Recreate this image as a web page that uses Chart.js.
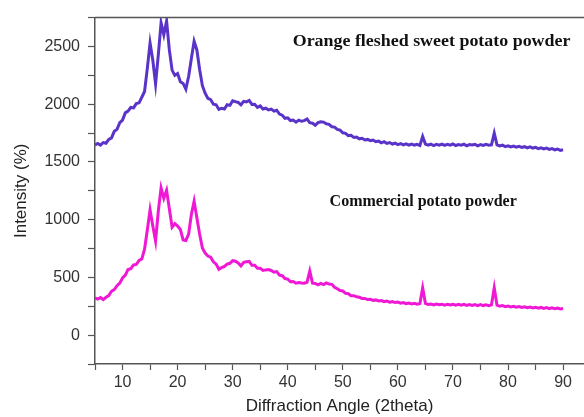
<!DOCTYPE html>
<html>
<head>
<meta charset="utf-8">
<script src="https://cdn.jsdelivr.net/npm/chart.js@4.4.1/dist/chart.umd.min.js"></script>
<style>
  html, body { margin: 0; padding: 0; background: #fff; }
  #wrap { width: 584px; height: 417px; position: relative; }
</style>
</head>
<body>
<div id="wrap"><canvas id="xrd"></canvas></div>
<script>
// 2theta scan positions
const angles = [
  5, 5.5, 6, 6.5, 7, 7.5, 8, 8.5, 9, 9.5,
  10, 10.5, 11, 11.5, 12, 12.5, 13, 13.5, 14, 14.5,
  15, 15.5, 16, 16.5, 17, 17.5, 18, 18.5, 19, 19.5,
  20, 20.5, 21, 21.5, 22, 22.5, 23, 23.5, 24, 24.5,
  25, 25.5, 26, 26.5, 27, 27.5, 28, 28.5, 29, 29.5,
  30, 30.5, 31, 31.5, 32, 32.5, 33, 33.5, 34, 34.5,
  35, 35.5, 36, 36.5, 37, 37.5, 38, 38.5, 39, 39.5,
  40, 40.5, 41, 41.5, 42, 42.5, 43, 43.5, 44, 44.5,
  45, 45.5, 46, 46.5, 47, 47.5, 48, 48.5, 49, 49.5,
  50, 50.5, 51, 51.5, 52, 52.5, 53, 53.5, 54, 54.5,
  55, 55.5, 56, 56.5, 57, 57.5, 58, 58.5, 59, 59.5,
  60, 60.5, 61, 61.5, 62, 62.5, 63, 63.5, 64, 64.5,
  65, 65.5, 66, 66.5, 67, 67.5, 68, 68.5, 69, 69.5,
  70, 70.5, 71, 71.5, 72, 72.5, 73, 73.5, 74, 74.5,
  75, 75.5, 76, 76.5, 77, 77.5, 78, 78.5, 79, 79.5,
  80, 80.5, 81, 81.5, 82, 82.5, 83, 83.5, 84, 84.5,
  85, 85.5, 86, 86.5, 87, 87.5, 88, 88.5, 89, 89.5,
  90
];

// orange fleshed sweet potato powder
const orangeFleshed = [
  1648, 1660, 1645, 1668, 1662, 1695, 1708, 1765, 1782, 1840,
  1862, 1925, 1940, 1972, 1968, 2005, 2012, 2060, 2110, 2310,
  2530, 2380, 2175, 2430, 2705, 2600, 2720, 2470, 2295, 2250,
  2265, 2195, 2180, 2130, 2240, 2395, 2545, 2470, 2300, 2160,
  2095, 2050, 2040, 2000, 1995, 1955, 1965, 1958, 1995, 1990,
  2030, 2022, 2015, 1995, 2025, 2020, 2032, 1998, 2000, 1972,
  1985, 1958, 1965, 1950, 1958, 1940, 1948, 1915, 1905, 1878,
  1882, 1858, 1862, 1845, 1862, 1852, 1858, 1872, 1840, 1835,
  1818, 1840, 1848, 1845, 1830, 1825, 1805, 1802, 1782, 1775,
  1752, 1748, 1728, 1730, 1712, 1715, 1700, 1705, 1690, 1695,
  1684, 1690, 1675, 1680, 1665, 1675, 1660, 1668, 1655, 1662,
  1650, 1658, 1648, 1656, 1645, 1655, 1646, 1652, 1642, 1720,
  1655, 1645, 1654, 1642, 1652, 1645, 1655, 1643, 1652, 1645,
  1655, 1642, 1650, 1645, 1654, 1640, 1650, 1646, 1652, 1640,
  1650, 1643, 1652, 1645, 1648, 1750, 1648, 1638, 1645, 1632,
  1640, 1630, 1638, 1628, 1635, 1625, 1632, 1622, 1630, 1620,
  1626, 1615, 1622, 1612, 1620, 1608, 1615, 1605, 1612, 1600,
  1605
];

// commercial potato powder
const commercial = [
  322, 312, 325, 308, 328, 342, 380, 395, 428, 450,
  495, 520, 568, 575, 608, 612, 648, 660, 745, 910,
  1085, 945, 815, 1075, 1275, 1185, 1255, 1095, 935, 965,
  945, 915, 825, 820, 875, 1045, 1160, 1015, 875, 755,
  710, 685, 675, 635, 615, 570, 585, 595, 615, 622,
  645, 640, 625, 600, 630, 635, 638, 605, 605, 580,
  580, 560, 565, 568, 560, 545, 550, 520, 515, 490,
  485, 462, 465, 450, 455, 452, 450, 458, 555, 450,
  448, 436, 448, 438, 452, 442, 440, 415, 402, 386,
  382, 362, 358, 342, 342, 332, 328, 318, 318, 308,
  310, 300, 305, 296, 300, 290, 295, 286, 290, 282,
  286, 277, 282, 273, 278, 270, 276, 268, 274, 410,
  275, 265, 270, 262, 270, 263, 268, 260, 268, 262,
  268, 260, 266, 259, 266, 258, 265, 258, 264, 256,
  264, 256, 262, 255, 262, 410, 260, 250, 256, 247,
  252, 244, 250, 242, 248, 240, 246, 238, 244, 236,
  242, 234, 240, 232, 238, 230, 236, 228, 234, 226,
  230
];

const xTickLabels = [10, 20, 30, 40, 50, 60, 70, 80, 90];
const yTickLabels = [0, 500, 1000, 1500, 2000, 2500];

const seriesNames = ['Orange fleshed sweet potato powder', 'Commercial potato powder'];

const toPoints = vals => angles.map((a, i) => ({ x: a, y: vals[i] }));

// curve captions, placed in data units
const captions = [
  { text: seriesNames[0], x: 40.9, y: 2540, stretch: 1.12 },
  { text: seriesNames[1], x: 47.6, y: 1150, stretch: 1.0 }
];

const captionPlugin = {
  id: 'captions',
  afterDatasetsDraw(chart) {
    const { ctx, scales } = chart;
    ctx.save();
    ctx.font = 'bold 16px "Liberation Serif", "DejaVu Serif", serif';
    ctx.fillStyle = '#111';
    ctx.textBaseline = 'middle';
    captions.forEach(c => {
      ctx.save();
      ctx.translate(scales.x.getPixelForValue(c.x), scales.y.getPixelForValue(c.y));
      ctx.scale(c.stretch, 1);
      ctx.fillText(c.text, 0, 0);
      ctx.restore();
    });
    // top frame line
    const a = chart.chartArea;
    ctx.strokeStyle = '#555';
    ctx.lineWidth = 1.5;
    ctx.beginPath();
    ctx.moveTo(a.left, a.top);
    ctx.lineTo(a.right, a.top);
    ctx.stroke();
    ctx.restore();
  }
};

const tickFont = { family: 'Arial, "Liberation Sans", sans-serif', size: 16 };
const titleFont = { family: 'Arial, "Liberation Sans", sans-serif', size: 17 };

new Chart(document.getElementById('xrd'), {
  type: 'line',
  data: {
    datasets: [
      {
        label: seriesNames[0],
        data: toPoints(orangeFleshed),
        borderColor: '#5a33c9',
        borderWidth: 3,
        pointRadius: 0,
        tension: 0
      },
      {
        label: seriesNames[1],
        data: toPoints(commercial),
        borderColor: '#ef18d4',
        borderWidth: 3,
        pointRadius: 0,
        tension: 0
      }
    ]
  },
  options: {
    responsive: true,
    maintainAspectRatio: false,
    animation: false,
    layout: { padding: { top: 15, right: 0, left: 0, bottom: 0 } },
    plugins: {
      legend: { display: false },
      tooltip: { enabled: false }
    },
    scales: {
      x: {
        type: 'linear',
        min: 5,
        max: 93.8,
        afterFit: s => { s.height = 53; },
        border: { color: '#555', width: 1.5 },
        grid: { drawOnChartArea: false, tickLength: 6, tickColor: '#555', tickWidth: 1.2 },
        ticks: {
          stepSize: 5,
          includeBounds: false,
          autoSkip: false,
          maxRotation: 0,
          color: '#333',
          font: tickFont,
          padding: 3,
          callback: v => (xTickLabels.includes(Math.round(v * 100) / 100) ? String(Math.round(v)) : '')
        },
        title: {
          display: true,
          text: 'Diffraction Angle (2theta)',
          color: '#222',
          font: titleFont,
          padding: { top: 0, bottom: 0 }
        }
      },
      y: {
        min: -250,
        max: 2750,
        afterFit: s => { s.width = 95; },
        border: { color: '#555', width: 1.5 },
        grid: { drawOnChartArea: false, tickLength: 7, tickColor: '#555', tickWidth: 1.2 },
        ticks: {
          stepSize: 250,
          autoSkip: false,
          color: '#333',
          font: tickFont,
          padding: 8,
          callback: v => (yTickLabels.includes(v) ? String(v) : '')
        },
        title: {
          display: true,
          text: 'Intensity (%)',
          color: '#222',
          font: titleFont,
          padding: { top: 11, bottom: 0 }
        }
      }
    }
  },
  plugins: [captionPlugin]
});
</script>
</body>
</html>
